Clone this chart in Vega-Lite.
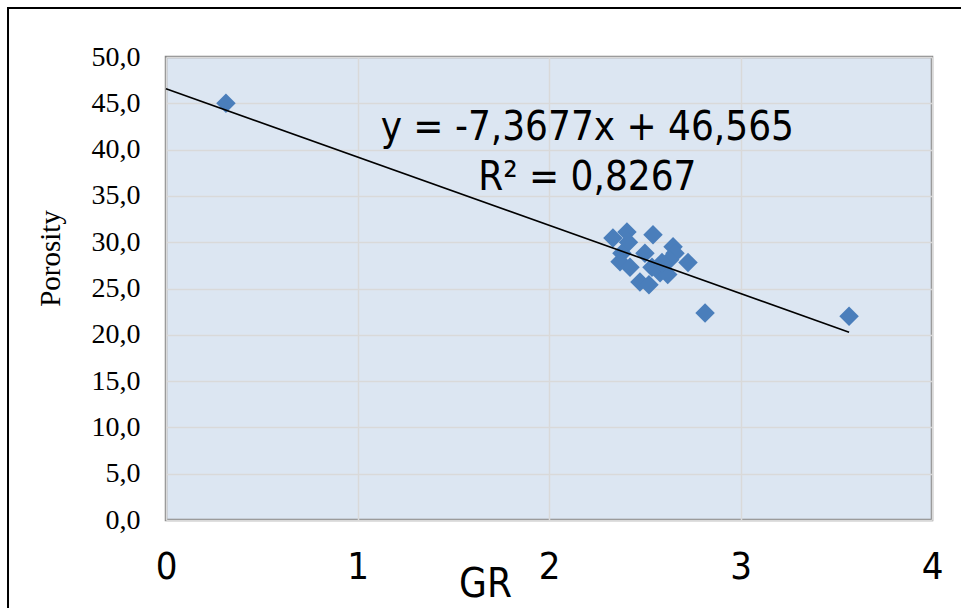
{
  "$schema": "https://vega.github.io/schema/vega-lite/v6.json",
  "width": 766,
  "height": 463,
  "autosize": {"type": "none"},
  "padding": {"left": 166, "top": 57, "right": 29, "bottom": 88},
  "background": "white",
  "config": {
    "view": {"fill": "#dce6f2", "stroke": "#868686", "strokeWidth": 2.5}
  },
  "datasets": {
    "points": [
      {"GR": 0.313, "Porosity": 45.0},
      {"GR": 2.334, "Porosity": 30.45},
      {"GR": 2.407, "Porosity": 31.1},
      {"GR": 2.415, "Porosity": 30.0},
      {"GR": 2.543, "Porosity": 30.8},
      {"GR": 2.381, "Porosity": 28.8},
      {"GR": 2.371, "Porosity": 27.9},
      {"GR": 2.423, "Porosity": 27.3},
      {"GR": 2.501, "Porosity": 28.8},
      {"GR": 2.475, "Porosity": 25.7},
      {"GR": 2.522, "Porosity": 25.4},
      {"GR": 2.538, "Porosity": 27.3},
      {"GR": 2.58, "Porosity": 26.7},
      {"GR": 2.62, "Porosity": 26.5},
      {"GR": 2.648, "Porosity": 29.5},
      {"GR": 2.658, "Porosity": 28.8},
      {"GR": 2.63, "Porosity": 28.1},
      {"GR": 2.726, "Porosity": 27.8},
      {"GR": 2.59, "Porosity": 27.8},
      {"GR": 2.815, "Porosity": 22.35},
      {"GR": 3.567, "Porosity": 22.0}
    ],
    "trend": [
      {"GR": 0, "Porosity": 46.565},
      {"GR": 3.567, "Porosity": 20.285}
    ],
    "labels": [
      {"GR": 2.2, "Porosity": 42.3, "text": "y = -7,3677x + 46,565"},
      {"GR": 2.2, "Porosity": 36.9, "text": "R² = 0,8267"}
    ],
    "frame": [
      {"x1": -0.825, "x2": 4.4, "y1": -20, "y2": 55.29}
    ]
  },
  "layer": [
    {
      "data": {"name": "frame"},
      "mark": {"type": "rect", "fill": null, "stroke": "black", "strokeWidth": 2, "clip": false},
      "encoding": {
        "x": {"field": "x1", "type": "quantitative", "scale": {"domain": [0, 4], "nice": false}},
        "x2": {"field": "x2"},
        "y": {"field": "y1", "type": "quantitative", "scale": {"domain": [0, 50], "nice": false}},
        "y2": {"field": "y2"}
      }
    },
    {
      "data": {"name": "points"},
      "mark": {"type": "point", "shape": "diamond", "filled": true, "size": 380, "color": "#4a7ebb", "opacity": 1},
      "encoding": {
        "x": {
          "field": "GR", "type": "quantitative",
          "scale": {"domain": [0, 4], "nice": false},
          "axis": {
            "values": [0, 1, 2, 3, 4], "format": "d",
            "grid": true, "gridColor": "#d9d9d9", "gridWidth": 1.5,
            "domain": false, "ticks": false,
            "labelFont": "DejaVu Sans Condensed", "labelFontSize": 38, "labelColor": "black",
            "labelPadding": 28, "labelFlush": false,
            "title": "GR", "titleFont": "DejaVu Sans Condensed", "titleFontSize": 40, "titleFontWeight": "normal",
            "titleColor": "black", "titleX": 319, "titleY": 64, "titleBaseline": "middle"
          }
        },
        "y": {
          "field": "Porosity", "type": "quantitative",
          "scale": {"domain": [0, 50], "nice": false},
          "axis": {
            "values": [0, 5, 10, 15, 20, 25, 30, 35, 40, 45, 50],
            "labelExpr": "replace(format(datum.value, '.1f'), '.', ',')",
            "grid": true, "gridColor": "#d9d9d9", "gridWidth": 1.5,
            "domain": false, "ticks": false,
            "labelFont": "Liberation Serif", "labelFontSize": 28, "labelColor": "black",
            "labelPadding": 26,
            "title": "Porosity", "titleFont": "Liberation Serif", "titleFontSize": 29, "titleFontWeight": "normal",
            "titleColor": "black", "titleX": -116, "titleY": 201, "titleBaseline": "middle", "titleAngle": -90
          }
        }
      }
    },
    {
      "data": {"name": "trend"},
      "mark": {"type": "line", "color": "black", "strokeWidth": 1.6},
      "encoding": {
        "x": {"field": "GR", "type": "quantitative"},
        "y": {"field": "Porosity", "type": "quantitative"}
      }
    },
    {
      "data": {"name": "labels"},
      "mark": {"type": "text", "font": "DejaVu Sans Condensed", "fontSize": 40, "color": "black", "align": "center", "baseline": "middle"},
      "encoding": {
        "x": {"field": "GR", "type": "quantitative"},
        "y": {"field": "Porosity", "type": "quantitative"},
        "text": {"field": "text"}
      }
    }
  ]
}
